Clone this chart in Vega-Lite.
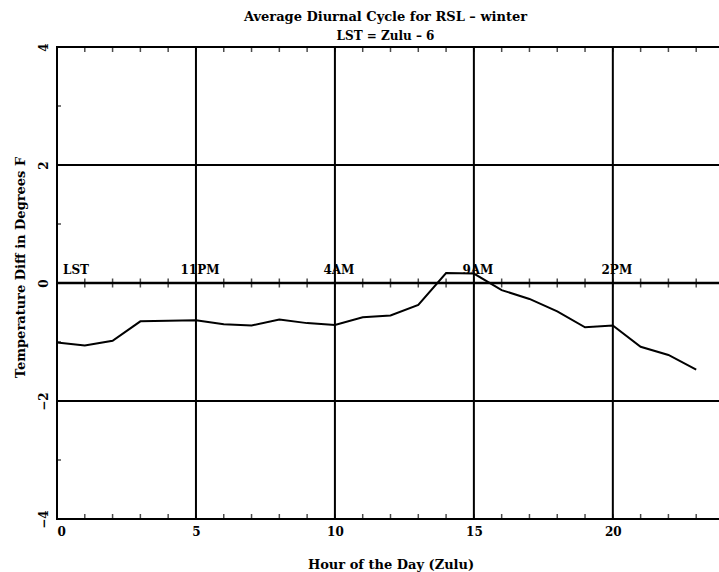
{
  "$schema": "https://vega.github.io/schema/vega-lite/v6.json",
  "width": 667,
  "height": 472,
  "autosize": {"type": "none"},
  "padding": {"left": 57, "top": 47, "right": 0, "bottom": 53},
  "background": "white",
  "title": {
    "text": "Average Diurnal Cycle for RSL – winter",
    "subtitle": "LST = Zulu – 6",
    "anchor": "middle",
    "dx": -5,
    "offset": 1,
    "fontSize": 13,
    "fontWeight": "bold",
    "subtitleFontSize": 12,
    "subtitleFontWeight": "bold",
    "subtitlePadding": 7,
    "color": "black",
    "subtitleColor": "black"
  },
  "config": {
    "font": "DejaVu Serif",
    "view": {"stroke": "black", "strokeWidth": 2},
    "axis": {
      "labelFont": "DejaVu Serif",
      "labelFontWeight": "bold",
      "labelFontSize": 12,
      "labelColor": "black",
      "titleFont": "DejaVu Serif",
      "titleFontWeight": "bold",
      "titleFontSize": 13,
      "titleColor": "black",
      "ticks": false,
      "domain": false,
      "grid": false
    }
  },
  "resolve": {"axis": {"x": "independent", "y": "independent"}},
  "datasets": {
    "series": [
      {"hour": 0, "temp": -1.01},
      {"hour": 1, "temp": -1.06},
      {"hour": 2, "temp": -0.98},
      {"hour": 3, "temp": -0.65},
      {"hour": 4, "temp": -0.64},
      {"hour": 5, "temp": -0.63},
      {"hour": 6, "temp": -0.70},
      {"hour": 7, "temp": -0.72},
      {"hour": 8, "temp": -0.62},
      {"hour": 9, "temp": -0.68},
      {"hour": 10, "temp": -0.71},
      {"hour": 11, "temp": -0.58},
      {"hour": 12, "temp": -0.55},
      {"hour": 13, "temp": -0.37},
      {"hour": 14, "temp": 0.17},
      {"hour": 15, "temp": 0.16},
      {"hour": 16, "temp": -0.12},
      {"hour": 17, "temp": -0.27},
      {"hour": 18, "temp": -0.48},
      {"hour": 19, "temp": -0.75},
      {"hour": 20, "temp": -0.72},
      {"hour": 21, "temp": -1.08},
      {"hour": 22, "temp": -1.22},
      {"hour": 23, "temp": -1.47}
    ],
    "vgrid": [{"gx": 5}, {"gx": 10}, {"gx": 15}, {"gx": 20}],
    "hgrid": [{"gy": -2, "w": 2}, {"gy": 0, "w": 2.5}, {"gy": 2, "w": 2}],
    "yticks": [{"v": -3}, {"v": -1}, {"v": 1}, {"v": 3}],
    "lst": [
      {"lx": 0, "label": "LST"}
    ],
    "clock": [
      {"lx": 5, "label": "11PM"},
      {"lx": 10, "label": "4AM"},
      {"lx": 15, "label": "9AM"},
      {"lx": 20, "label": "2PM"}
    ]
  },
  "layer": [
    {
      "data": {"name": "vgrid"},
      "mark": {"type": "rule", "color": "black", "strokeWidth": 2},
      "encoding": {
        "x": {"field": "gx", "type": "quantitative", "axis": null, "scale": {"domain": [0, 24], "nice": false}}
      }
    },
    {
      "data": {"name": "hgrid"},
      "mark": {"type": "rule", "color": "black"},
      "encoding": {
        "y": {"field": "gy", "type": "quantitative", "axis": null, "scale": {"domain": [-4, 4], "nice": false}},
        "strokeWidth": {"field": "w", "type": "quantitative", "scale": null}
      }
    },
    {
      "data": {"name": "series"},
      "mark": {"type": "tick", "orient": "vertical", "color": "black", "size": 9, "thickness": 1.5},
      "encoding": {
        "x": {"field": "hour", "type": "quantitative", "axis": null},
        "y": {"datum": 0, "type": "quantitative", "axis": null}
      }
    },
    {
      "data": {"name": "series"},
      "mark": {"type": "tick", "orient": "vertical", "color": "black", "size": 10, "thickness": 1.5, "clip": true},
      "encoding": {
        "x": {"field": "hour", "type": "quantitative", "axis": null},
        "y": {"datum": 4, "type": "quantitative", "axis": null}
      }
    },
    {
      "data": {"name": "series"},
      "mark": {"type": "tick", "orient": "vertical", "color": "black", "size": 10, "thickness": 1.5, "clip": true},
      "encoding": {
        "x": {"field": "hour", "type": "quantitative", "axis": null},
        "y": {"datum": -4, "type": "quantitative", "axis": null}
      }
    },
    {
      "data": {"name": "yticks"},
      "mark": {"type": "tick", "orient": "horizontal", "color": "black", "size": 8, "thickness": 1.5, "clip": true},
      "encoding": {
        "x": {"datum": 0, "type": "quantitative", "axis": null},
        "y": {"field": "v", "type": "quantitative", "axis": null}
      }
    },
    {
      "data": {"name": "series"},
      "mark": {"type": "line", "color": "black", "strokeWidth": 2},
      "encoding": {
        "x": {
          "field": "hour", "type": "quantitative",
          "axis": {
            "orient": "bottom",
            "values": [0, 5, 10, 15, 20],
            "labelPadding": 7,
            "title": "Hour of the Day (Zulu)",
            "titlePadding": 21
          }
        },
        "y": {
          "field": "temp", "type": "quantitative",
          "axis": {
            "orient": "left",
            "values": [-4, -2, 0, 2, 4],
            "labelAngle": -90,
            "labelPadding": 7,
            "title": "Temperature Diff in Degrees F",
            "titleX": -37,
            "titleY": 220,
            "titleBaseline": "middle",
            "titleAngle": -90
          }
        }
      }
    },
    {
      "data": {"name": "lst"},
      "mark": {"type": "text", "align": "left", "baseline": "alphabetic", "dx": 6, "dy": -9, "fontSize": 12, "fontWeight": "bold", "font": "DejaVu Serif", "color": "black"},
      "encoding": {
        "x": {"field": "lx", "type": "quantitative", "axis": null},
        "y": {"datum": 0, "type": "quantitative", "axis": null},
        "text": {"field": "label"}
      }
    },
    {
      "data": {"name": "clock"},
      "mark": {"type": "text", "align": "center", "baseline": "alphabetic", "dx": 4, "dy": -9, "fontSize": 12, "fontWeight": "bold", "font": "DejaVu Serif", "color": "black"},
      "encoding": {
        "x": {"field": "lx", "type": "quantitative", "axis": null},
        "y": {"datum": 0, "type": "quantitative", "axis": null},
        "text": {"field": "label"}
      }
    }
  ]
}
